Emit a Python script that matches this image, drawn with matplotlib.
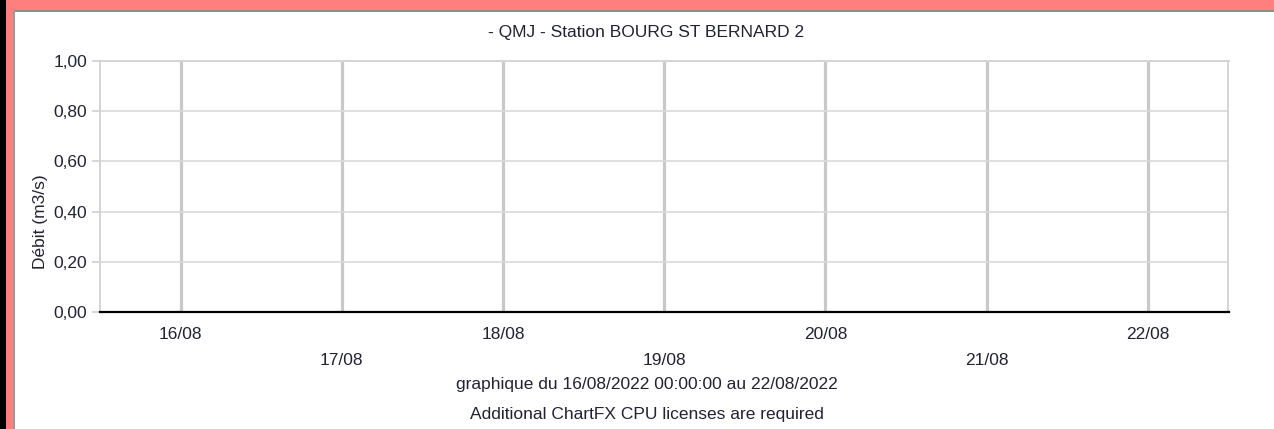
import matplotlib
matplotlib.use("Agg")
import matplotlib.pyplot as plt
import matplotlib.dates as mdates
from matplotlib.patches import Rectangle
from matplotlib.ticker import FixedLocator, FuncFormatter
import datetime as dt

plt.rcParams['font.family'] = ['Liberation Sans', 'DejaVu Sans']

# data
title = "- QMJ - Station BOURG ST BERNARD 2"
ylabel = "Débit (m3/s)"
days = [dt.datetime(2022, 8, d) for d in range(16, 23)]
day_labels = ["16/08", "17/08", "18/08", "19/08", "20/08", "21/08", "22/08"]
y_ticks = [0.0, 0.2, 0.4, 0.6, 0.8, 1.0]
debit_dates = []   # no values for the period
debit_values = []
period_text = "graphique du 16/08/2022 00:00:00 au 22/08/2022"
license_text = "Additional ChartFX CPU licenses are required"

W, H = 1274, 429
fig = plt.figure(figsize=(W / 100, H / 100), dpi=100)
fig.patch.set_facecolor('white')

# frame around the chart (pixel boxes converted to figure fractions)
def px_rect(x0, y0, x1, y1, color):
    fig.patches.append(Rectangle((x0 / W, 1 - y1 / H), (x1 - x0) / W, (y1 - y0) / H,
                                 transform=fig.transFigure, facecolor=color,
                                 edgecolor='none', zorder=0))

px_rect(0, 0, W, 10, '#ff7f7f')
px_rect(0, 10, W, 11.5, '#8c8c8c')
px_rect(0, 0, 6.5, H, '#000000')
px_rect(6.5, 0, 13, H, '#ff7f7f')
px_rect(13, 10, 15, H, '#9a9a9a')

left, right, top, bottom = 100, 1228.5, 61, 312
ax = fig.add_axes([left / W, 1 - bottom / H, (right - left) / W, (bottom - top) / H])
ax.set_facecolor('white')

ax.plot(debit_dates, debit_values, color='#0000cc')

ax.set_xlim(dt.datetime(2022, 8, 15, 12), dt.datetime(2022, 8, 22, 12))
ax.set_ylim(0, 1.0)

even = [mdates.date2num(d) for d in days[0::2]]
odd = [mdates.date2num(d) for d in days[1::2]]
ax.xaxis.set_major_locator(FixedLocator(even))
ax.xaxis.set_minor_locator(FixedLocator(odd))
ax.set_xticklabels(day_labels[0::2])
ax.set_xticklabels(day_labels[1::2], minor=True)

ax.set_yticks(y_ticks)
ax.yaxis.set_major_formatter(FuncFormatter(lambda v, p: f"{v:.2f}".replace('.', ',')))

fs = 12.5
txt_color = '#222233'
ax.tick_params(axis='x', which='major', length=0, pad=10.5, labelsize=fs, labelcolor=txt_color)
ax.tick_params(axis='x', which='minor', length=0, pad=29.5, labelsize=fs, labelcolor=txt_color)
ax.tick_params(axis='y', length=6, width=1.2, color='#cfcfcf', pad=3,
               labelsize=fs, labelcolor=txt_color)

ax.grid(True, axis='x', which='both', color='#c8c8c8', linewidth=2.3)
ax.grid(True, axis='y', which='major', color='#dadada', linewidth=1.2)
ax.set_axisbelow(True)

for s in ['left', 'top', 'right']:
    ax.spines[s].set_color('#d4d4d4')
    ax.spines[s].set_linewidth(1.4)
ax.spines['bottom'].set_color('#000000')
ax.spines['bottom'].set_linewidth(1.6)

fig.text(40 / W, 1 - 222 / H, ylabel, rotation=90, ha='center', va='center',
         fontsize=fs, color=txt_color)
fig.text(646 / W, 1 - 33 / H, title, ha='center', va='center', fontsize=fs, color=txt_color)
fig.text(647 / W, 1 - 384 / H, period_text, ha='center', va='center', fontsize=fs, color=txt_color)
fig.text(647 / W, 1 - 414 / H, license_text, ha='center', va='center', fontsize=fs, color=txt_color)

fig.savefig('out.png', dpi=100)
